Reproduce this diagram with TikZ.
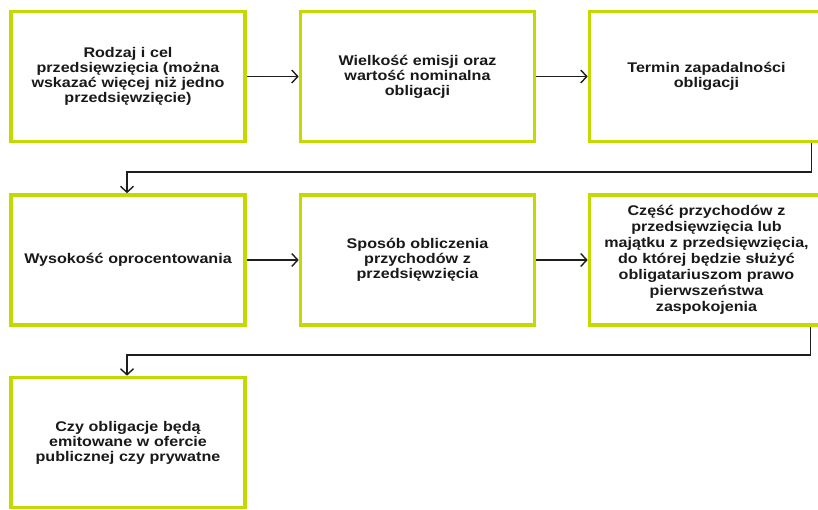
\documentclass[tikz,border=0pt]{standalone}
\usepackage{fontspec}
\setmainfont[FakeStretch=1.15]{Liberation Sans}
\usetikzlibrary{arrows.meta}
\definecolor{boxgreen}{HTML}{C3D900}
\definecolor{linegray}{HTML}{1E1E1E}
\tikzset{
  stepbox/.style={draw=boxgreen, line width=3.6pt, fill=white, minimum width=234pt, minimum height=130pt,
    inner sep=0pt, align=center, text width=215pt, font=\bfseries\fontsize{14}{15}\selectfont, text=black!90},
  link/.style={draw=linegray, line width=1.4pt, -{Straight Barb[length=6pt,width=13pt,line width=1.4pt]}}
}
\begin{document}
\begin{tikzpicture}[x=1pt,y=-1pt]
\useasboundingbox (0,0) rectangle (818,510);
\node[stepbox] (a) at (128,76.5) {Rodzaj i cel\\przedsięwzięcia (można\\wskazać więcej niż jedno\\przedsięwzięcie)};
\node[stepbox] (b) at (417.5,76.5) {Wielkość emisji oraz\\wartość nominalna\\obligacji};
\node[stepbox] (c) at (706.5,76.5) {Termin zapadalności\\obligacji};
\node[stepbox] (d) at (128,260) {Wysokość oprocentowania};
\node[stepbox] (e) at (417.5,260) {Sposób obliczenia\\przychodów z\\przedsięwzięcia};
\node[stepbox, font=\bfseries\fontsize{14}{16}\selectfont] (f) at (706.5,260) {Część przychodów z\\przedsięwzięcia lub\\majątku z przedsięwzięcia,\\do której będzie służyć\\obligatariuszom prawo\\pierwszeństwa\\zaspokojenia};
\node[stepbox] (g) at (128,442.5) {Czy obligacje będą\\emitowane w ofercie\\publicznej czy prywatne};
\coordinate (c1) at (811.5,172);
\coordinate (c2) at (127,172);
\coordinate (f1) at (810.5,355);
\coordinate (f2) at (127,355);
\draw[link] (a) -- (b);
\draw[link] (b) -- (c);
\draw[link] (d) -- (e);
\draw[link] (e) -- (f);
\draw[link] (c.south -| c1) -- (c1) -- (c2) -- (d.north -| c2);
\draw[link] (f.south -| f1) -- (f1) -- (f2) -- (g.north -| f2);
\end{tikzpicture}
\end{document}
